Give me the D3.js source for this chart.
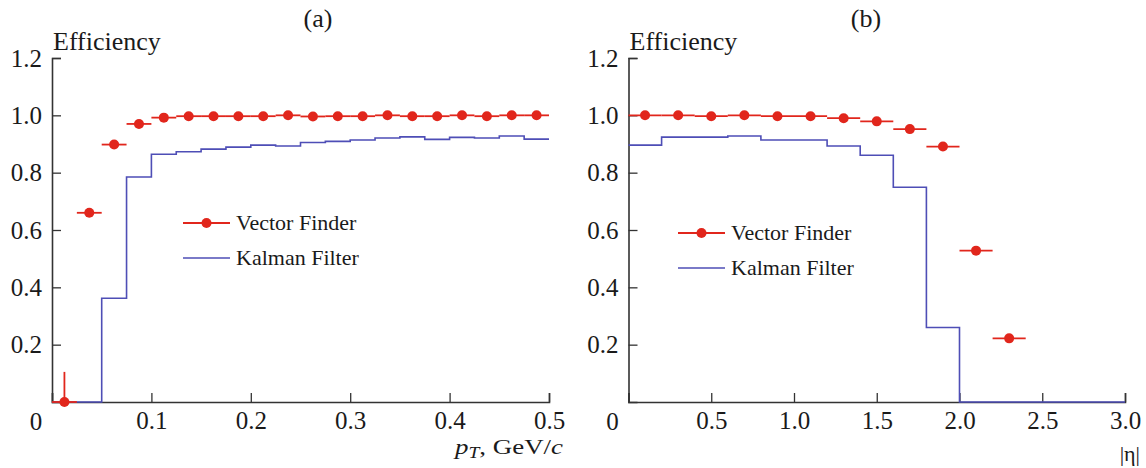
<!DOCTYPE html>
<html><head><meta charset="utf-8">
<script src="https://cdn.jsdelivr.net/npm/d3@7"></script>
<style>body{margin:0;background:#fff}svg{display:block}</style>
</head><body><svg id="c" width="1146" height="468"></svg>
<script>
// Panel (a): efficiency vs pT (bins of 0.025 GeV/c)
const ptEdges = d3.range(0, 0.5001, 0.025);
const ptVF = [0, 0.66, 0.898, 0.97, 0.992, 0.997, 0.997, 0.997, 0.997, 1.0, 0.996, 0.997, 0.997, 1.0, 0.997, 0.997, 1.0, 0.997, 1.0, 1.0];
const ptVFerrUp = [0.105, 0, 0, 0, 0, 0, 0, 0, 0, 0, 0, 0, 0, 0, 0, 0, 0, 0, 0, 0];
const ptKF = [0, 0, 0.362, 0.785, 0.864, 0.873, 0.882, 0.889, 0.896, 0.893, 0.905, 0.909, 0.914, 0.921, 0.925, 0.916, 0.923, 0.921, 0.928, 0.917];
// Panel (b): efficiency vs |eta| (bins of 0.2)
const etaEdges = d3.range(0, 3.0001, 0.2);
const etaVF = [1.0, 1.0, 0.997, 1.0, 0.997, 0.997, 0.99, 0.979, 0.952, 0.891, 0.528, 0.222];
const etaKF = [0.896, 0.924, 0.924, 0.928, 0.914, 0.914, 0.893, 0.861, 0.749, 0.26, 0, 0, 0, 0, 0];
const yTicks = [0.2, 0.4, 0.6, 0.8, 1.0, 1.2];
const ptTicks = [0.1, 0.2, 0.3, 0.4, 0.5];
const etaTicks = [0.5, 1.0, 1.5, 2.0, 2.5, 3.0];
const legendNames = ["Vector Finder", "Kalman Filter"];

const FONT = "'Liberation Serif','DejaVu Serif','Times New Roman',serif";
const RED = "#e1261c", BLUE = "#4e4eb6", AX = "#333", TXT = "#1a1a1a";
const svg = d3.select("#c");
function T(sel, size) { return sel.style("font-family", FONT).style("font-size", size + "px").attr("fill", TXT); }

function panel(o) {
  const x = d3.scaleLinear().domain(o.xdom).range([o.x0, o.x1]);
  const y = d3.scaleLinear().domain([0, 1.2]).range([402, 58]);
  const g = svg.append("g");
  const ya = g.append("g").attr("transform", `translate(${o.x0},0)`)
    .call(d3.axisLeft(y).tickValues(yTicks).tickSize(-9).tickPadding(10).tickFormat(d3.format(".1f")));
  const xa = g.append("g").attr("transform", `translate(0,402)`)
    .call(d3.axisBottom(x).tickValues([0].concat(o.xticks)).tickSize(-9).tickPadding(9).tickFormat(o.fmt));
  [ya, xa].forEach(a => {
    a.attr("font-family", null);
    a.select(".domain").attr("stroke", AX).attr("stroke-width", 1.6);
    a.selectAll(".tick line").attr("stroke", AX).attr("stroke-width", 1.3);
    T(a.selectAll(".tick text"), 25);
  });
  xa.selectAll(".tick").filter(d => d === 0).select("text").remove();
  T(g.append("text").attr("x", o.x0 - 16).attr("y", 430).attr("text-anchor", "middle"), 25).text("0");
  T(g.append("text").attr("x", o.x0 + 1).attr("y", 50), 26).text("Efficiency");
  T(g.append("text").attr("x", o.titleX).attr("y", 27).attr("text-anchor", "middle"), 26).text(o.title);

  // Kalman histogram (step)
  const pts = [];
  o.kf.forEach((v, i) => { pts.push([o.edges[i], v]); pts.push([o.edges[i + 1], v]); });
  g.append("path").attr("d", d3.line().x(d => x(d[0])).y(d => y(d[1]))(pts))
    .attr("fill", "none").attr("stroke", BLUE).attr("stroke-width", 1.6);

  // Vector Finder points with x error bars
  const vf = o.vf.map((v, i) => ({ lo: o.edges[i], hi: o.edges[i + 1], c: (o.edges[i] + o.edges[i + 1]) / 2, v, eu: o.eu ? o.eu[i] : 0 }));
  const pg = g.append("g");
  pg.selectAll("line.h").data(vf).join("line").attr("class", "h")
    .attr("x1", d => x(d.lo)).attr("x2", d => x(d.hi)).attr("y1", d => y(d.v)).attr("y2", d => y(d.v))
    .attr("stroke", RED).attr("stroke-width", 1.8);
  pg.selectAll("line.v").data(vf.filter(d => d.eu > 0)).join("line").attr("class", "v")
    .attr("x1", d => x(d.c)).attr("x2", d => x(d.c)).attr("y1", d => y(d.v)).attr("y2", d => y(d.v + d.eu))
    .attr("stroke", RED).attr("stroke-width", 1.8);
  pg.selectAll("circle").data(vf).join("circle")
    .attr("cx", d => x(d.c)).attr("cy", d => y(d.v)).attr("r", 5).attr("fill", RED);

  // legend
  const L = g.append("g");
  L.append("line").attr("x1", o.lx).attr("x2", o.lx + 47).attr("y1", o.ly).attr("y2", o.ly).attr("stroke", RED).attr("stroke-width", 1.8);
  L.append("circle").attr("cx", o.lx + 23.5).attr("cy", o.ly).attr("r", 5).attr("fill", RED);
  T(L.append("text").attr("x", o.lx + 53).attr("y", o.ly + 7), 22).text(legendNames[0]);
  L.append("line").attr("x1", o.lx).attr("x2", o.lx + 47).attr("y1", o.ly + 35).attr("y2", o.ly + 35).attr("stroke", BLUE).attr("stroke-width", 1.6);
  T(L.append("text").attr("x", o.lx + 53).attr("y", o.ly + 42), 22).text(legendNames[1]);
  return g;
}

panel({ xdom: [0, 0.5], x0: 52, x1: 549, xticks: ptTicks, fmt: d3.format(".1f"), edges: ptEdges, vf: ptVF, eu: ptVFerrUp, kf: ptKF,
  title: "(a)", titleX: 318, lx: 183, ly: 223 });
panel({ xdom: [0, 3.0], x0: 628.5, x1: 1125, xticks: etaTicks, fmt: d3.format(".1f"), edges: etaEdges, vf: etaVF, kf: etaKF,
  title: "(b)", titleX: 866, lx: 678, ly: 233 });

// axis titles
const xl = T(svg.append("text").attr("x", 563).attr("y", 454).attr("text-anchor", "end"), 22)
  .attr("textLength", 108).attr("lengthAdjust", "spacingAndGlyphs");
xl.append("tspan").style("font-style", "italic").text("p");
xl.append("tspan").style("font-style", "italic").style("font-size", "16px").attr("dy", 4).text("T");
xl.append("tspan").attr("dy", -4).text(", GeV/");
xl.append("tspan").style("font-style", "italic").text("c");
T(svg.append("text").attr("x", 1140).attr("y", 461).attr("text-anchor", "end"), 22).text("|η|");
</script></body></html>
